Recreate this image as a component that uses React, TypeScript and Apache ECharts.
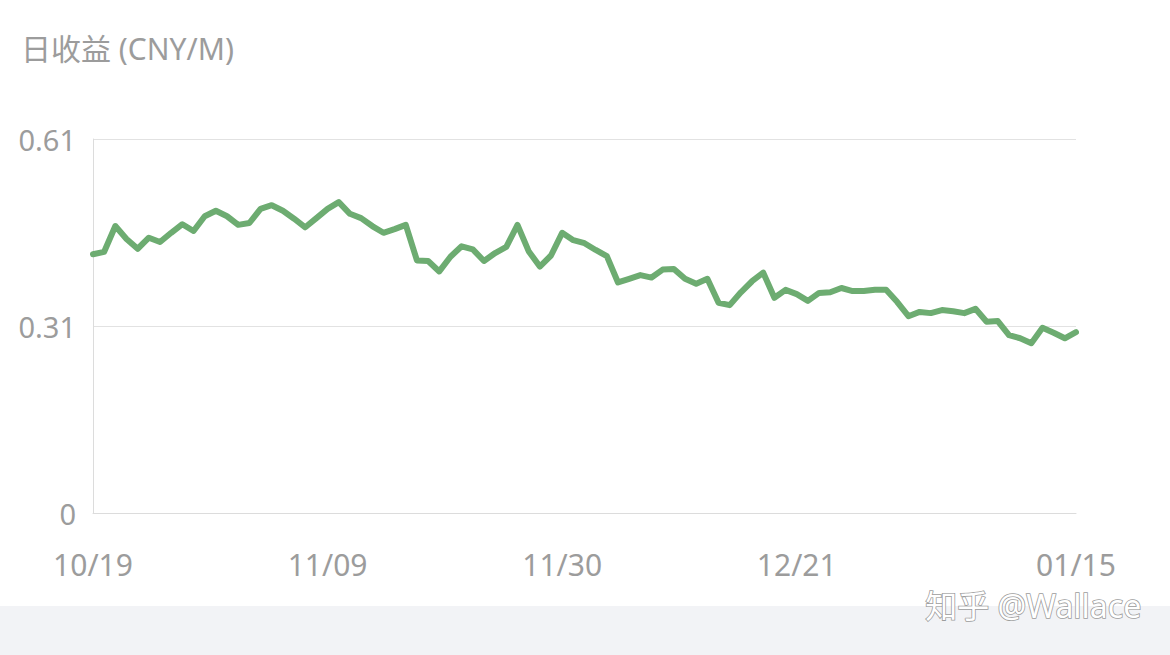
import React, { useEffect, useRef } from "react";
import * as echarts from "echarts";

const startDate = "2021-10-19";
const dayCount = 89;
const shownLabelIndices = [0, 21, 42, 63, 88];
const yTicks = [0, 0.305, 0.61];
const yTickLabels = ["0", "0.31", "0.61"];
const dailyIncome = [
  0.422, 0.426, 0.468, 0.447, 0.431, 0.449, 0.442, 0.457, 0.471, 0.46,
  0.484, 0.493, 0.484, 0.47, 0.473, 0.496, 0.502, 0.493, 0.48, 0.466,
  0.481, 0.496, 0.507, 0.488, 0.481, 0.468, 0.457, 0.463, 0.47, 0.412,
  0.411, 0.394, 0.418, 0.435, 0.43, 0.411, 0.424, 0.434, 0.47, 0.427,
  0.402, 0.42, 0.457, 0.445, 0.44, 0.429, 0.419, 0.376, 0.382, 0.388,
  0.384, 0.397, 0.398, 0.382, 0.374, 0.382, 0.343, 0.339, 0.36, 0.378,
  0.392, 0.351, 0.364, 0.357, 0.346, 0.359, 0.36, 0.367, 0.362, 0.362,
  0.364, 0.364, 0.344, 0.321, 0.328, 0.326, 0.331, 0.329, 0.326, 0.333,
  0.312, 0.313, 0.29, 0.285, 0.277, 0.302, 0.294, 0.285, 0.295,
];
const titleText = "日收益 (CNY/M)";
const watermarkText = "知乎 @Wallace";

function buildDates(): string[] {
  const out: string[] = [];
  const d = new Date(startDate + "T00:00:00");
  for (let i = 0; i < dayCount; i++) {
    const mm = String(d.getMonth() + 1).padStart(2, "0");
    const dd = String(d.getDate()).padStart(2, "0");
    out.push(`${mm}/${dd}`);
    d.setDate(d.getDate() + 1);
  }
  return out;
}

export default function App() {
  const ref = useRef<HTMLDivElement>(null);
  useEffect(() => {
    if (!ref.current) return;
    const chart = echarts.init(ref.current, undefined, { renderer: "svg" });
    const dates = buildDates();
    const font = "'Noto Sans', 'Noto Sans CJK SC', sans-serif";
    chart.setOption({
      animation: false,
      backgroundColor: "#ffffff",
      title: {
        text: titleText,
        left: 16,
        top: 28,
        textStyle: {
          fontSize: 30,
          fontWeight: "normal",
          color: "#9c9c9c",
          fontFamily: font,
        },
      },
      grid: { left: 93, right: 94, top: 139, bottom: 142, containLabel: false },
      xAxis: {
        type: "category",
        data: dates,
        boundaryGap: false,
        axisLine: { show: true, lineStyle: { color: "#dcdcdc", width: 1 } },
        axisTick: { show: false },
        axisLabel: {
          interval: (idx: number) => shownLabelIndices.includes(idx),
          color: "#9c9c9c",
          fontSize: 30,
          fontFamily: font,
          margin: 36,
          showMinLabel: true,
          showMaxLabel: true,
        },
        splitLine: { show: false },
      },
      yAxis: {
        type: "value",
        min: 0,
        max: 0.61,
        interval: 0.305,
        axisLine: { show: true, lineStyle: { color: "#dcdcdc", width: 1 } },
        axisTick: { show: false },
        axisLabel: {
          color: "#9c9c9c",
          fontSize: 29,
          fontFamily: font,
          margin: 17,
          formatter: (v: number) => {
            let best = 0;
            for (let i = 0; i < yTicks.length; i++) {
              if (Math.abs(yTicks[i] - v) < Math.abs(yTicks[best] - v)) best = i;
            }
            return yTickLabels[best];
          },
        },
        splitLine: { show: true, lineStyle: { color: "#e2e2e2", width: 1 } },
      },
      series: [
        {
          type: "line",
          data: dailyIncome,
          showSymbol: false,
          symbol: "none",
          smooth: false,
          lineStyle: { color: "#6dac71", width: 6, join: "round", cap: "round" },
        },
      ],
      graphic: [
        {
          type: "rect",
          left: 0,
          top: 606,
          shape: { width: 1170, height: 49 },
          style: { fill: "#f2f3f6" },
          z: -1,
        },
        {
          type: "text",
          right: 28,
          top: 589,
          style: {
            text: watermarkText,
            fontSize: 32,
            fontFamily: font,
            fill: "#ffffff",
            stroke: "#9c9c9c",
            lineWidth: 1.6,
          },
          z: 10,
        },
      ],
    });
    return () => chart.dispose();
  }, []);
  return (
    <div
      ref={ref}
      style={{ position: "absolute", left: 0, top: 0, width: 1170, height: 655 }}
    />
  );
}
